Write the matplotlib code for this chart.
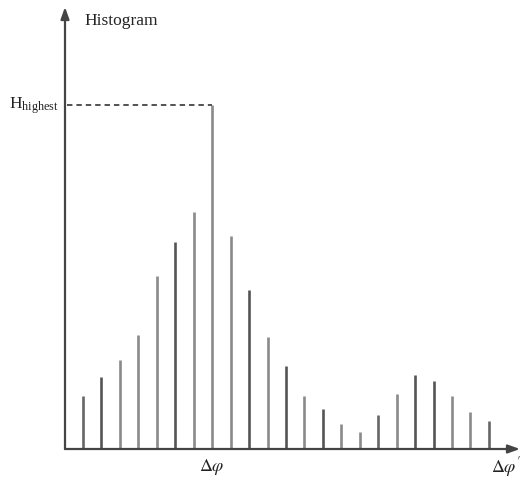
import matplotlib
matplotlib.use("Agg")
import matplotlib.pyplot as plt

# Data (arbitrary units, baseline = 0)
bins = list(range(1, 24))
heights = [53, 72, 89, 114, 173, 207, 237, 344, 213, 159, 112, 83,
           53, 40, 25, 17, 34, 55, 74, 68, 53, 37, 28]
shades = ["#666666", "#555555", "#8a8a8a", "#8a8a8a", "#8a8a8a", "#555555",
          "#8a8a8a", "#8a8a8a", "#8a8a8a", "#555555", "#8a8a8a", "#555555",
          "#8a8a8a", "#555555", "#8a8a8a", "#8a8a8a", "#666666", "#8a8a8a",
          "#555555", "#555555", "#8a8a8a", "#8a8a8a", "#666666"]
peak_index = 7  # zero-based index of tallest bar

plt.rcParams["font.family"] = ["Liberation Serif", "DejaVu Serif"]
plt.rcParams["mathtext.fontset"] = "stix"

W, H = 523, 479
fig = plt.figure(figsize=(W / 100, H / 100), dpi=100)
left_px, right_px, base_px, top_px = 65, 520, 449, 7
ax = fig.add_axes([left_px / W, (H - base_px) / H,
                   (right_px - left_px) / W, (base_px - top_px) / H])
step = 18.45
x0 = 83
ax.set_xlim(1 + (left_px - x0) / step, 1 + (right_px - x0) / step)
ax.set_ylim(0, base_px - top_px)
for s in ax.spines.values():
    s.set_visible(False)
ax.set_xticks([])
ax.set_yticks([])
ax.patch.set_alpha(0)

ax.vlines(bins, 0, heights, colors=shades, linewidth=1.9)

# axes with arrows
ax.annotate("", xy=(1, 0), xytext=(0, 0), xycoords="axes fraction",
            arrowprops=dict(arrowstyle="-|>,head_length=0.7,head_width=0.25",
                            color="#444444", lw=1.6, shrinkA=0, shrinkB=0))
ax.annotate("", xy=(0, 1), xytext=(0, 0), xycoords="axes fraction",
            arrowprops=dict(arrowstyle="-|>,head_length=0.7,head_width=0.25",
                            color="#444444", lw=1.6, shrinkA=0, shrinkB=0))

# dashed line to the highest bar
xmin = ax.get_xlim()[0]
ax.plot([xmin + 0.12, bins[peak_index]], [heights[peak_index]] * 2,
        ls=(0, (3, 2.2)), color="#444444", lw=1.3)

fig.text(84 / W, 1 - 21 / H, "Histogram", fontsize=12.5, va="center", ha="left",
         color="#222222")
fig.text(9 / W, 1 - 106 / H, r"H$_{\mathregular{highest}}$", fontsize=12.5,
         va="center", ha="left", color="#222222")
fig.text(212 / W, 1 - 467 / H, r"$\Delta\varphi$", fontsize=13, va="center",
         ha="center", color="#222222")
fig.text(521 / W, 1 - 467 / H, r"$\Delta\varphi'$", fontsize=13, va="center",
         ha="right", color="#222222")

fig.savefig("out.png", dpi=100)
